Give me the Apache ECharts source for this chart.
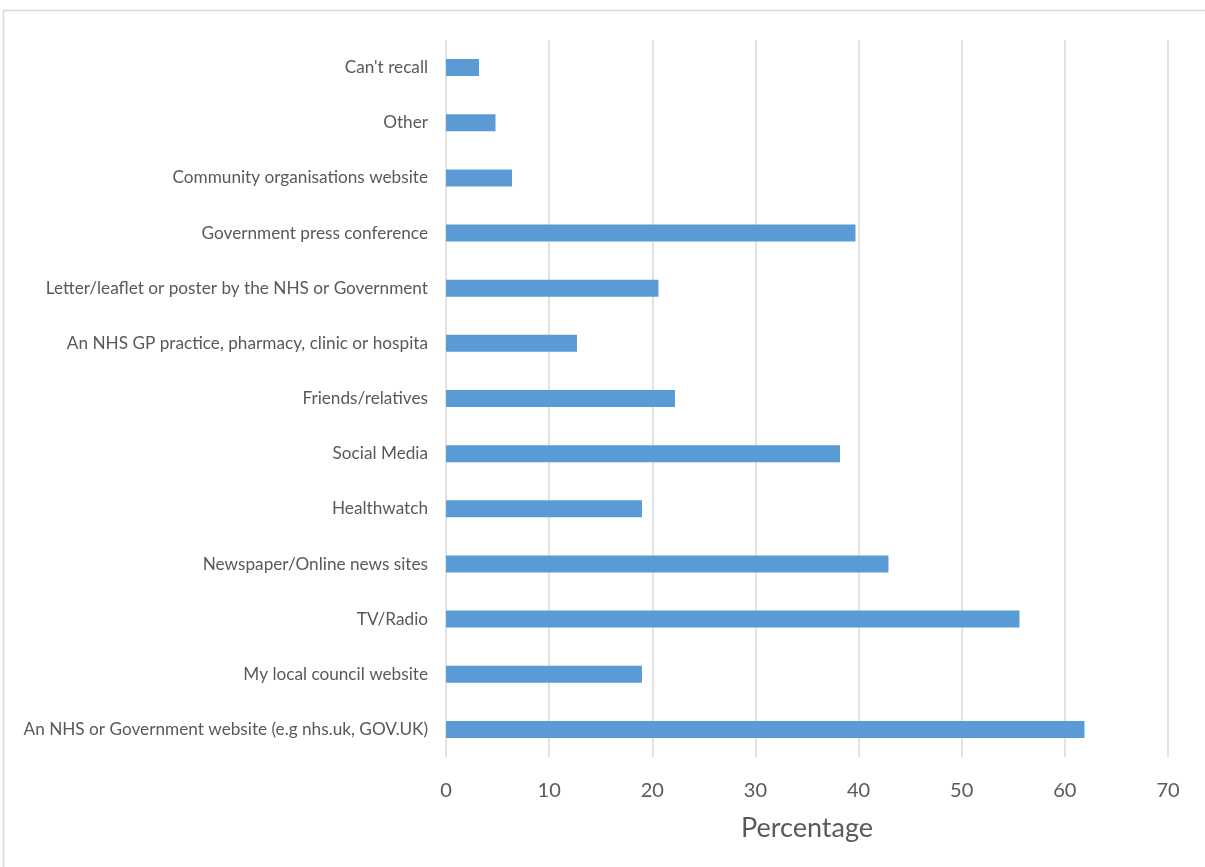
<!DOCTYPE html>
<html>
<head>
<meta charset="utf-8">
<script src="https://cdn.jsdelivr.net/npm/echarts@6/dist/echarts.min.js"></script>
<style>
  html, body { margin: 0; padding: 0; background: #ffffff; }
  #chart { width: 1205px; height: 867px; }
</style>
</head>
<body>
<div id="chart"></div>
<script>
// Sources of information, listed top to bottom
const categories = [
  "Can't recall",
  "Other",
  "Community organisations website",
  "Government press conference",
  "Letter/leaflet or poster by the NHS or Government",
  "An NHS GP practice, pharmacy, clinic or hospita",
  "Friends/relatives",
  "Social Media",
  "Healthwatch",
  "Newspaper/Online news sites",
  "TV/Radio",
  "My local council website",
  "An NHS or Government website (e.g nhs.uk, GOV.UK)"
];

// Percentage of respondents per source
const percentages = [3.2, 4.8, 6.4, 39.7, 20.6, 12.7, 22.2, 38.2, 19.0, 42.9, 55.6, 19.0, 61.9];

const axisMin = 0;
const axisMax = 70;
const axisStep = 10;
const axisTitle = "Percentage";

const textColor = "#595959";
const gridColor = "#d9d9d9";
const barColor = "#5b9bd5";
const fontFamily = "Lato, 'Open Sans', sans-serif";

const chart = echarts.init(document.getElementById('chart'), null, { renderer: 'canvas' });

chart.setOption({
  animation: false,
  backgroundColor: '#ffffff',
  graphic: [{
    type: 'rect',
    shape: { x: 3.5, y: 10.5, width: 1220, height: 880 },
    style: { fill: 'none', stroke: gridColor, lineWidth: 1.5 },
    silent: true
  }],
  grid: { left: 446, right: 37, top: 40, bottom: 110, containLabel: false },
  xAxis: {
    type: 'value',
    min: axisMin,
    max: axisMax,
    interval: axisStep,
    name: axisTitle,
    nameLocation: 'middle',
    nameGap: 58,
    nameTextStyle: { color: textColor, fontSize: 27, fontFamily: fontFamily },
    axisLine: { show: false },
    axisTick: { show: false },
    axisLabel: { color: textColor, fontSize: 20, fontFamily: fontFamily, margin: 24 },
    splitLine: { show: true, lineStyle: { color: gridColor, width: 1.5 } }
  },
  yAxis: {
    type: 'category',
    data: categories,
    inverse: true,
    axisLine: { show: false },
    axisTick: { show: false },
    axisLabel: { color: textColor, fontSize: 17.2, fontFamily: fontFamily, margin: 18 }
  },
  series: [{
    type: 'bar',
    data: percentages,
    barWidth: 17,
    itemStyle: { color: barColor },
    silent: true
  }]
});
</script>
</body>
</html>
